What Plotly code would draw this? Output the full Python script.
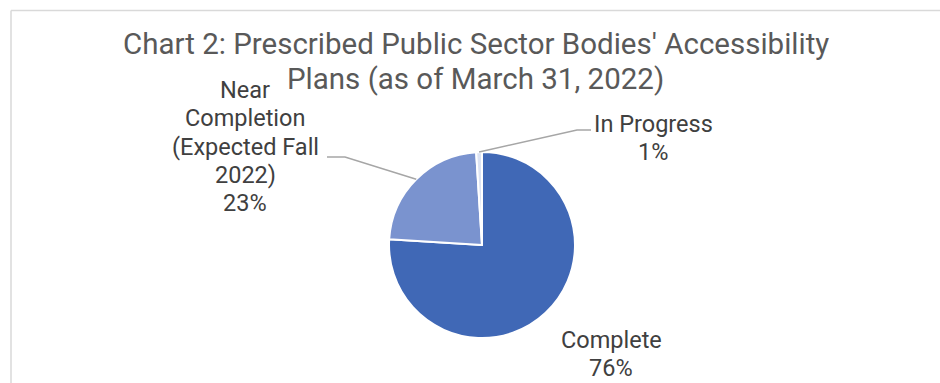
import math
import plotly.graph_objects as go

# Plan status shares (percent)
categories = ["Complete", "Near Completion (Expected Fall 2022)", "In Progress"]
label_lines = [["Complete"], ["Near", "Completion", "(Expected Fall", "2022)"], ["In Progress"]]
shares = [76, 23, 1]
colors = ["#4068B6", "#7A93CF", "#DCE3F3"]
title_lines = ["Chart 2: Prescribed Public Sector Bodies' Accessibility",
               "Plans (as of March 31, 2022)"]

W, H = 940, 383
CX, CY, R = 482, 245, 93  # pie centre and radius in pixels


def px(x):
    return x / W


def py(y):
    return 1 - y / H


fig = go.Figure()
fig.add_trace(go.Pie(
    labels=categories,
    values=shares,
    sort=False,
    direction="clockwise",
    rotation=0,
    marker=dict(colors=colors, line=dict(color="white", width=2)),
    textinfo="none",
    hoverinfo="label+percent",
    showlegend=False,
    domain=dict(x=[px(CX - R), px(CX + R)], y=[py(CY + R), py(CY - R)]),
))

# slice mid-angles (clockwise from 12 o'clock) -> anchor points on the rim
total = sum(shares)
anchors = []
start = 0.0
for v in shares:
    mid = (start + v / 2) / total * 2 * math.pi
    anchors.append((CX + R * math.sin(mid), CY - R * math.cos(mid)))
    start += v

# label placement: (text centre x, first line centre y, elbow x, line end x, line y)
label_pos = [
    (611, 339.7, None, None, None),
    (245, 90, 345, 327, 157),
    (653, 123.7, 577, 591, 130),
]
LABEL_STEP = 28.3
TITLE_STEP = 34.5

shapes = []
annotations = []
line_col = "#A6A6A6"
label_font = dict(family="Roboto", size=23.5, color="#404040")
for i, (lines, v) in enumerate(zip(label_lines, shares)):
    tx, ty, ex, lx, ly = label_pos[i]
    for k, s in enumerate(lines + [f"{v}%"]):
        annotations.append(dict(
            x=px(tx), y=py(ty + k * LABEL_STEP), xref="paper", yref="paper",
            text=s, showarrow=False, xanchor="center", yanchor="middle",
            font=label_font,
        ))
    if ex is not None:
        ax, ay = anchors[i]
        shapes.append(dict(
            type="path", xref="paper", yref="paper",
            path=f"M {px(ax)} {py(ay)} L {px(ex)} {py(ly)} L {px(lx)} {py(ly)}",
            line=dict(color=line_col, width=1.5),
        ))

# title
for k, s in enumerate(title_lines):
    annotations.append(dict(
        x=px(475.5), y=py(44.5 + k * TITLE_STEP), xref="paper", yref="paper",
        text=s, showarrow=False, xanchor="center", yanchor="middle",
        font=dict(family="Roboto", size=29.5, color="#595959"),
    ))

# chart area frame (top and left edges)
frame_col = "#D9D9D9"
shapes.append(dict(type="line", xref="paper", yref="paper",
                   x0=px(11), x1=1, y0=py(10.5), y1=py(10.5),
                   line=dict(color=frame_col, width=1.5)))
shapes.append(dict(type="line", xref="paper", yref="paper",
                   x0=px(11), x1=px(11), y0=py(10.5), y1=0,
                   line=dict(color=frame_col, width=1.5)))

fig.update_layout(
    width=W, height=H,
    margin=dict(l=0, r=0, t=0, b=0),
    paper_bgcolor="white", plot_bgcolor="white",
    shapes=shapes, annotations=annotations,
)

fig.write_html("out.html")
